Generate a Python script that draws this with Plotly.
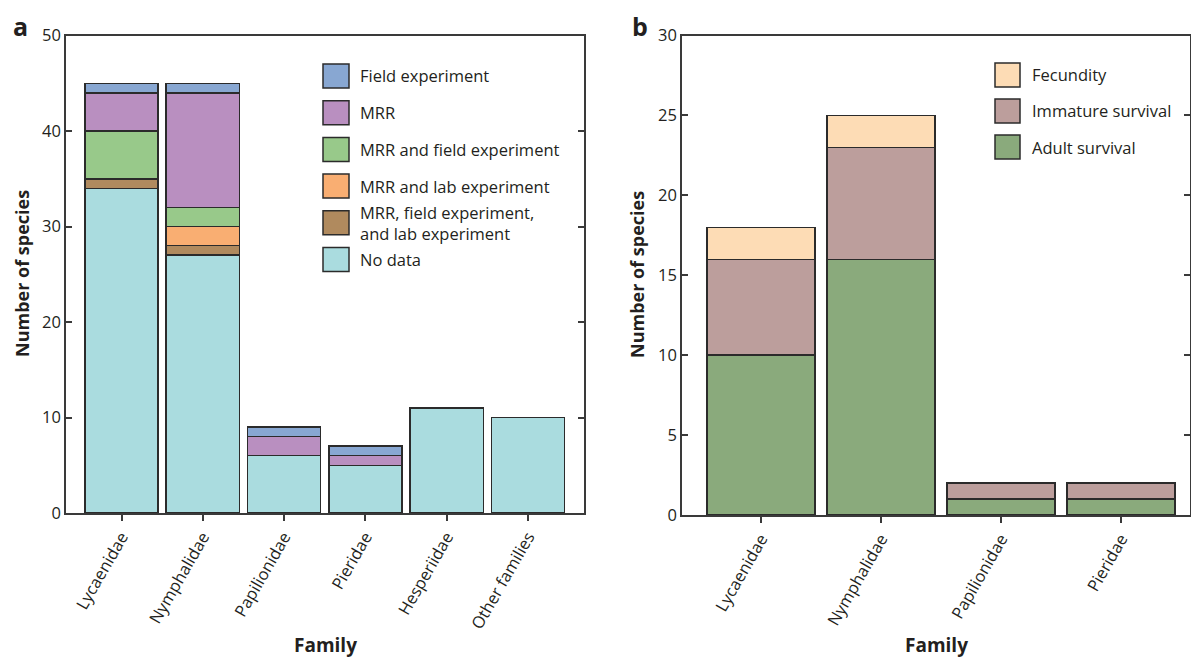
import plotly.graph_objects as go

# page body has an 8px margin; figure is sized to fill the remaining window
OFF = 8
W, H = 1199 - OFF, 660 - OFF

# ---------------- data ----------------
families_a = ["Lycaenidae", "Nymphalidae", "Papilionidae", "Pieridae", "Hesperiidae", "Other families"]
no_data = [34, 27, 6, 5, 11, 10]
mrr_field_lab = [1, 1, None, None, None, None]
mrr_lab = [None, 2, None, None, None, None]
mrr_field = [5, 2, None, None, None, None]
mrr = [4, 12, 2, 1, None, None]
field_exp = [1, 1, 1, 1, None, None]

families_b = ["Lycaenidae", "Nymphalidae", "Papilionidae", "Pieridae"]
adult_survival = [10, 16, 1, 1]
immature_survival = [6, 7, 1, 1]
fecundity = [2, 2, None, None]

series_a = [
    ("No data", no_data, "#aadcdf"),
    ("MRR, field experiment,<br>and lab experiment", mrr_field_lab, "#b08a5e"),
    ("MRR and lab experiment", mrr_lab, "#f9ae72"),
    ("MRR and field experiment", mrr_field, "#98c98a"),
    ("MRR", mrr, "#b98fc0"),
    ("Field experiment", field_exp, "#88a7d2"),
]
series_b = [
    ("Adult survival", adult_survival, "#8aaa7c"),
    ("Immature survival", immature_survival, "#bc9e9c"),
    ("Fecundity", fecundity, "#fddcb5"),
]

TXT = "#231f20"
FONT = "Open Sans"
EDGE = "#2b2b2b"

def px(x):
    return (x - OFF) / W

def py(y):
    return 1 - (y - OFF) / H

fig = go.Figure()
for name, vals, col in series_a:
    fig.add_trace(go.Bar(x=families_a, y=vals, name=name, marker=dict(color=col, line=dict(color=EDGE, width=1.5)),
                         width=0.9, xaxis="x", yaxis="y", showlegend=False))
for name, vals, col in series_b:
    fig.add_trace(go.Bar(x=families_b, y=vals, name=name, marker=dict(color=col, line=dict(color=EDGE, width=1.5)),
                         width=0.9, xaxis="x2", yaxis="y2", showlegend=False))

axis_common = dict(showline=True, linecolor="#3a3a3a", linewidth=1.5, showgrid=False, zeroline=False,
                   automargin=False, tickcolor="#3a3a3a", tickwidth=1.5, ticklen=6)
xfont = dict(family=FONT, size=16.5, color=TXT)
yfont = dict(family=FONT, size=16.5, color=TXT)
fig.update_layout(
    width=W, height=H, barmode="stack", plot_bgcolor="white", paper_bgcolor="white",
    margin=dict(l=0, r=0, t=0, b=0), showlegend=False,
    font=dict(family=FONT, color=TXT),
    xaxis=dict(domain=[px(66), px(584)], range=[-0.683, 5.689], mirror=True, ticks="outside",
               tickangle=-60, anchor="y", tickfont=xfont, **axis_common),
    yaxis=dict(domain=[py(513), py(35.5)], range=[0, 50], dtick=10, mirror="ticks", ticks="inside",
               anchor="x", tickfont=yfont, **axis_common),
    xaxis2=dict(domain=[px(682), px(1190)], range=[-0.658, 3.575], mirror=True, ticks="outside",
                tickangle=-60, anchor="y2", tickfont=xfont, **axis_common),
    yaxis2=dict(domain=[py(515), py(35.5)], range=[0, 30], dtick=5, mirror="ticks", ticks="inside",
                anchor="x2", tickfont=yfont, **axis_common),
)

ann = []
shapes = []
# panel labels
ann.append(dict(text="<b>a</b>", x=px(20), y=py(25.5), xref="paper", yref="paper", showarrow=False,
                font=dict(size=25, family=FONT, color=TXT), xanchor="center", yanchor="middle"))
ann.append(dict(text="<b>b</b>", x=px(640), y=py(25.5), xref="paper", yref="paper", showarrow=False,
                font=dict(size=25, family=FONT, color=TXT), xanchor="center", yanchor="middle"))
# axis titles
for xc in (px(325), px(936)):
    ann.append(dict(text="<b>Family</b>", x=xc, y=py(645), xref="paper", yref="paper", showarrow=False,
                    font=dict(size=19, family=FONT, color=TXT), xanchor="center", yanchor="middle"))
ann.append(dict(text="<b>Number of species</b>", x=px(22), y=py(274), xref="paper", yref="paper", showarrow=False,
                textangle=-90, font=dict(size=18, family=FONT, color=TXT), xanchor="center", yanchor="middle"))
ann.append(dict(text="<b>Number of species</b>", x=px(637), y=py(275), xref="paper", yref="paper", showarrow=False,
                textangle=-90, font=dict(size=18, family=FONT, color=TXT), xanchor="center", yanchor="middle"))

# legends (drawn manually for large swatches)
legend_a_items = list(reversed(series_a))
for i, (name, vals, col) in enumerate(legend_a_items):
    yc = 76 + i * 36.7
    shapes.append(dict(type="rect", xref="paper", yref="paper", x0=px(323), x1=px(349), y0=py(yc + 12), y1=py(yc - 12),
                       fillcolor=col, line=dict(color=EDGE, width=1.5)))
    ann.append(dict(text=name, x=px(358), y=py(yc), xref="paper", yref="paper", showarrow=False, align="left",
                    font=dict(size=16.5, family=FONT, color=TXT), xanchor="left", yanchor="middle"))
legend_b_items = list(reversed(series_b))
for i, (name, vals, col) in enumerate(legend_b_items):
    yc = 75 + i * 36
    shapes.append(dict(type="rect", xref="paper", yref="paper", x0=px(995), x1=px(1020), y0=py(yc + 12), y1=py(yc - 12),
                       fillcolor=col, line=dict(color=EDGE, width=1.5)))
    ann.append(dict(text=name, x=px(1030), y=py(yc), xref="paper", yref="paper", showarrow=False, align="left",
                    font=dict(size=16.5, family=FONT, color=TXT), xanchor="left", yanchor="middle"))

fig.update_layout(annotations=ann, shapes=shapes)
fig.write_html("out.html")
